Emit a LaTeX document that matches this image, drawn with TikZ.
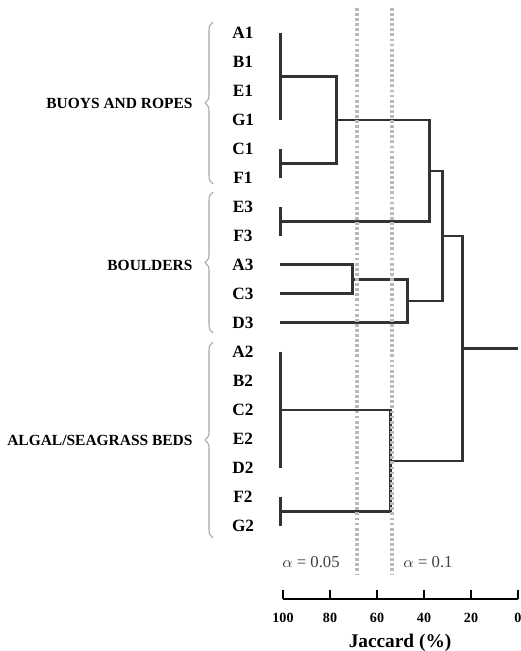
\documentclass[tikz,border=0pt]{standalone}
\usepackage{fontspec}
\setmainfont{Liberation Serif}
\usetikzlibrary{positioning, decorations.pathreplacing}

\begin{document}
\begin{tikzpicture}[
    x=0.02cm, y=-0.02cm,
    node distance = 0cm,
    leaf/.style      = {font=\fontsize{9.8}{11}\selectfont\bfseries, inner sep=0pt,
                        outer sep=0pt, minimum height=0.58cm},
    group/.style     = {font=\fontsize{8.8}{10}\selectfont\bfseries, inner sep=0pt,
                        anchor=east, xshift=-0.4cm},
    link/.style      = {line width=1.7pt, draw=black!80},
    cutline/.style   = {line width=1.8pt, draw=gray!55, dash pattern=on 1.6pt off 1.3pt},
    sitebrace/.style = {draw=gray!70, line width=0.6pt, decorate,
                        decoration={brace, amplitude=0.16cm}},
    alphalab/.style  = {font=\fontsize{9.5}{11}\selectfont, text=black!75},
    axis/.style      = {line width=1.6pt},
    tick/.style      = {font=\fontsize{8}{9}\selectfont\bfseries},
    every label/.style = {font=\tiny}
  ]
  \useasboundingbox (0,0) rectangle (520,651);

  % ── Leaves (sites) ──────────────────────────────────────────
  \node[leaf] (A1) at (243,33)   {A1};
  \node[leaf] (B1) [below=of A1] {B1};
  \node[leaf] (E1) [below=of B1] {E1};
  \node[leaf] (G1) [below=of E1] {G1};
  \node[leaf] (C1) [below=of G1] {C1};
  \node[leaf] (F1) [below=of C1] {F1};
  \node[leaf] (E3) [below=of F1] {E3};
  \node[leaf] (F3) [below=of E3] {F3};
  \node[leaf] (A3) [below=of F3] {A3};
  \node[leaf] (C3) [below=of A3] {C3};
  \node[leaf] (D3) [below=of C3] {D3};
  \node[leaf] (A2) [below=of D3] {A2};
  \node[leaf] (B2) [below=of A2] {B2};
  \node[leaf] (C2) [below=of B2] {C2};
  \node[leaf] (E2) [below=of C2] {E2};
  \node[leaf] (D2) [below=of E2] {D2};
  \node[leaf] (F2) [below=of D2] {F2};
  \node[leaf] (G2) [below=of F2] {G2};

  % ── Habitat braces ──────────────────────────────────────────
  \draw[sitebrace] (213,184) -- node[group, midway] (buoys) {BUOYS AND ROPES} (213,22);
  \draw[sitebrace] (213,333) -- node[group, midway, yshift=-0.05cm] (boulders) {BOULDERS} (213,192);
  \draw[sitebrace] (213,538) -- node[group, midway] (algal) {ALGAL/SEAGRASS BEDS} (213,342);

  % ── Merge points (x = similarity level) ─────────────────────
  \coordinate (bA)   at (280,76.5);   % A1..G1
  \coordinate (bC)   at (280,163.5);  % C1,F1
  \coordinate (bB)   at (336,120);    % buoys
  \coordinate (rE)   at (280,221.5);  % E3,F3
  \coordinate (bE)   at (429,171);
  \coordinate (rA)   at (352,279.5);  % A3,C3
  \coordinate (rD)   at (407,301);
  \coordinate (hB)   at (442,236);
  \coordinate (aA)   at (280,410);    % A2..D2
  \coordinate (aF)   at (280,511.5);  % F2,G2
  \coordinate (aL)   at (390,461);
  \coordinate (root) at (462,348.5);
  \coordinate (top)  at (518,348.5);

  % ── Dendrogram ──────────────────────────────────────────────
  \draw[link] (A1 -| bA) -- (G1 -| bA);
  \draw[link] (C1 -| bC) -- (F1 -| bC);
  \draw[link] (bA) -| (bB) |- (bC);
  \draw[link] (E3 -| rE) -- (F3 -| rE);
  \draw[link] (bB) -| (bE) |- (rE);
  \draw[link] (A3 -| rE) -| (rA) |- (C3 -| rE);
  \draw[link] (rA) -| (rD) |- (D3 -| rE);
  \draw[link] (rD) -| (hB) |- (bE);
  \draw[link] (A2 -| aA) -- (D2 -| aA);
  \draw[link] (F2 -| aF) -- (G2 -| aF);
  \draw[link] (aA) -| (aL) |- (aF);
  \draw[link] (hB) -| (root) |- (aL);
  \draw[link] (root) -- (top);

  % ── Significance levels ─────────────────────────────────────
  \draw[cutline] (357,8) -- (357,575);
  \draw[cutline] (392,8) -- (392,575);
  \node[alphalab] (a05) at (311,562) {$\alpha$ = 0.05};
  \node[alphalab] (a10) at (428,562) {$\alpha$ = 0.1};

  % ── Axis ────────────────────────────────────────────────────
  \draw[axis] (283,599) -- (518,599);
  \draw[axis] (283,590) -- (283,599);
  \draw[axis] (330,590) -- (330,599);
  \draw[axis] (377,590) -- (377,599);
  \draw[axis] (424,590) -- (424,599);
  \draw[axis] (471,590) -- (471,599);
  \draw[axis] (518,590) -- (518,599);
  \node[tick] (t100) at (283,618) {100};
  \node[tick] (t80)  at (330,618) {80};
  \node[tick] (t60)  at (377,618) {60};
  \node[tick] (t40)  at (424,618) {40};
  \node[tick] (t20)  at (471,618) {20};
  \node[tick] (t0)   at (518,618) {0};
  \node[font=\fontsize{11}{13}\selectfont\bfseries] (jac) at (400,643) {Jaccard (\%)};

\end{tikzpicture}
\end{document}
